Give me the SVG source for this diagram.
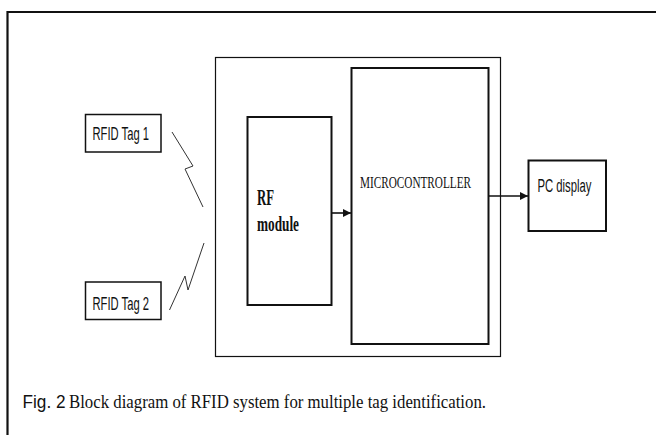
<svg xmlns="http://www.w3.org/2000/svg" width="656" height="435" viewBox="0 0 656 435">
<style>
.box{fill:#fff;stroke:#111;}
.sans{font-family:"Liberation Sans",Arial,sans-serif;fill:#111;}
.serif{font-family:"Liberation Serif","Times New Roman",serif;fill:#111;}
.wire{fill:none;stroke:#111;stroke-width:1.6;}
.zig{fill:none;stroke:#333;stroke-width:1;}
</style>
<defs>
<marker id="arr" viewBox="0 0 10 10" refX="10" refY="5" markerWidth="8" markerHeight="9" markerUnits="userSpaceOnUse" orient="auto">
<path d="M0,0 L10,5 L0,10 Z" fill="#111"/>
</marker>
</defs>
<rect width="656" height="435" fill="#fff"/>
<path d="M7.5,435 V12 H656" fill="none" stroke="#111" stroke-width="2.2"/>

<g id="system">
<rect class="box" x="215.5" y="57.5" width="285" height="299" stroke-width="1.2"/>
</g>
<g id="rf-module">
<rect class="box" x="247.5" y="117" width="84" height="188" stroke-width="2"/>
<text class="serif" x="257" y="205" font-size="23" font-weight="bold" textLength="17" lengthAdjust="spacingAndGlyphs">RF</text>
<text class="serif" x="257" y="231" font-size="21" font-weight="bold" textLength="42" lengthAdjust="spacingAndGlyphs">module</text>
</g>
<g id="microcontroller">
<rect class="box" x="351.5" y="68" width="137" height="276" stroke-width="2"/>
<text class="serif" x="360" y="188" font-size="17" textLength="111" lengthAdjust="spacingAndGlyphs">MICROCONTROLLER</text>
</g>
<g id="pc-display">
<rect class="box" x="528.5" y="160.5" width="77.5" height="70.5" stroke-width="2"/>
<text class="sans" x="537.5" y="192" font-size="18" textLength="54" lengthAdjust="spacingAndGlyphs">PC display</text>
</g>
<g id="tag1">
<rect class="box" x="85.5" y="114.5" width="75.5" height="37.5" stroke-width="1.5"/>
<text class="sans" x="92.5" y="140" font-size="19" textLength="56.5" lengthAdjust="spacingAndGlyphs">RFID Tag 1</text>
</g>
<g id="tag2">
<rect class="box" x="85.5" y="282" width="75.5" height="37.5" stroke-width="1.5"/>
<text class="sans" x="92.5" y="310" font-size="19" textLength="56.5" lengthAdjust="spacingAndGlyphs">RFID Tag 2</text>
</g>

<g id="connectors">
<path class="zig" d="M172,132 L193,166 L185,169 L203,207"/>
<path class="zig" d="M169.5,310 L185,276 L188,290 L204,243"/>
<line class="wire" x1="331.5" y1="213" x2="351" y2="213" marker-end="url(#arr)"/>
<line class="wire" x1="488.5" y1="196" x2="528" y2="196" marker-end="url(#arr)"/>
</g>

<g id="caption">
<text class="sans" x="22.5" y="407.5" font-size="17.5" textLength="43" lengthAdjust="spacingAndGlyphs">Fig. 2</text>
<text class="serif" x="69" y="407.5" font-size="18.5" textLength="417" lengthAdjust="spacingAndGlyphs">Block diagram of RFID system for multiple tag identification.</text>
</g>
</svg>
